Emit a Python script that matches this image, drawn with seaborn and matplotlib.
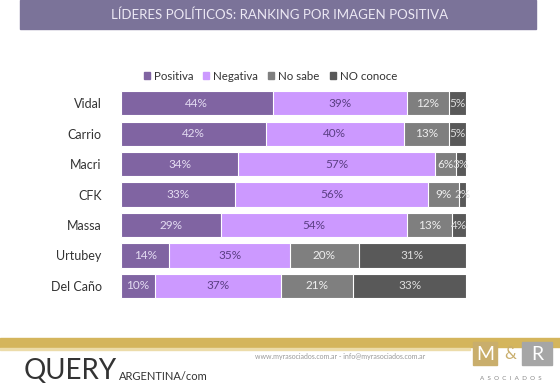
import numpy as np
import pandas as pd
import seaborn as sns
import matplotlib.pyplot as plt
from matplotlib.patches import Rectangle

# datos
politicos = ["Vidal", "Carrio", "Macri", "CFK", "Massa", "Urtubey", "Del Caño"]
positiva = [44, 42, 34, 33, 29, 14, 10]
negativa = [39, 40, 57, 56, 54, 35, 37]
no_sabe = [12, 13, 6, 9, 13, 20, 21]
no_conoce = [5, 5, 3, 2, 4, 31, 33]

series = ["Positiva", "Negativa", "No sabe", "NO conoce"]
colores = ["#8064a2", "#cc99ff", "#7f7f7f", "#595959"]
color_texto = ["#e4dcf2", "#5b3f84", "#eeeeee", "#dddddd"]

df = pd.DataFrame({"politico": politicos, "Positiva": positiva, "Negativa": negativa,
                   "No sabe": no_sabe, "NO conoce": no_conoce})
vals = df[series].to_numpy(dtype=float)
shares = vals / vals.sum(axis=1, keepdims=True) * 100  # barra 100% apilada
cum = np.cumsum(shares, axis=1)

sns.set_style("white")
plt.rcParams['font.family'] = ['Lato', 'DejaVu Sans']

fig = plt.figure(figsize=(5.6, 3.88), dpi=100)
ax = fig.add_axes([0.216, 0.224, 0.616, 0.549])

# dibujar de la ultima serie a la primera para apilar
for i in range(len(series) - 1, -1, -1):
    tmp = pd.DataFrame({"politico": politicos, "total": cum[:, i]})
    sns.barplot(data=tmp, x="total", y="politico", color=colores[i], orient="h",
                width=0.8, edgecolor="white", linewidth=0.8, saturation=1, ax=ax)

for r in range(len(politicos)):
    for i in range(len(series)):
        centro = cum[r, i] - shares[r, i] / 2
        ax.text(centro, r, f"{int(vals[r, i])}%", ha="center", va="center",
                fontsize=8.5, color=color_texto[i])

ax.set_xlim(0, 100)
ax.set_xlabel("")
ax.set_ylabel("")
ax.set_xticks([])
ax.tick_params(axis="y", length=0, pad=14, labelsize=9, labelcolor="#333333")
sns.despine(ax=ax, left=True, bottom=True)

# leyenda
handles = [Rectangle((0, 0), 1, 1, color=c) for c in colores]
fig.legend(handles, series, loc="center", bbox_to_anchor=(0.483, 0.804), ncol=4,
           frameon=False, fontsize=8.3, handlelength=0.5, handleheight=0.5,
           handletextpad=0.35, columnspacing=0.9, labelcolor="#333333")

# banda de titulo
fig.patches.append(Rectangle((20 / 560, 1 - 29 / 388), 516 / 560, 29 / 388,
                             transform=fig.transFigure, color="#7b7399", zorder=0))
fig.text(0.5, 1 - 15 / 388, "LÍDERES POLÍTICOS: RANKING POR IMAGEN POSITIVA",
         ha="center", va="center", fontsize=9.5, color="#ece8f4")

# pie de pagina
fig.patches.append(Rectangle((0, 1 - 347 / 388), 1, 9 / 388,
                             transform=fig.transFigure, color="#d4b55c", zorder=0))
fig.patches.append(Rectangle((0, 1 - 350 / 388), 470 / 560, 2 / 388,
                             transform=fig.transFigure, color="#ecdcaa", zorder=0))
fig.patches.append(Rectangle((473 / 560, 1 - 365 / 388), 24 / 560, 23 / 388,
                             transform=fig.transFigure, color="#c9ae6c", zorder=1))
fig.patches.append(Rectangle((522 / 560, 1 - 365 / 388), 30 / 560, 23 / 388,
                             transform=fig.transFigure, color="#a6a6a6", zorder=1))
fig.text(485 / 560, 1 - 354 / 388, "M", ha="center", va="center", fontsize=14, color="white")
fig.text(510 / 560, 1 - 354 / 388, "&", ha="center", va="center", fontsize=12, color="#c9ae6c")
fig.text(537 / 560, 1 - 354 / 388, "R", ha="center", va="center", fontsize=14, color="white")
fig.text(511 / 560, 1 - 378 / 388, "A  S  O  C  I  A  D  O  S", ha="center", va="center",
         fontsize=4.5, color="#888888")
fig.text(340 / 560, 1 - 357 / 388, "www.myrasociados.com.ar - info@myrasociados.com.ar",
         ha="center", va="center", fontsize=5, color="#999999")
fig.text(24 / 560, 1 - 371 / 388, "QUERY", ha="left", va="center", fontsize=20,
         color="#333333")
fig.text(119 / 560, 1 - 376 / 388, "ARGENTINA/com", ha="left", va="center", fontsize=8,
         color="#333333")

fig.savefig("out.png", dpi=100)
